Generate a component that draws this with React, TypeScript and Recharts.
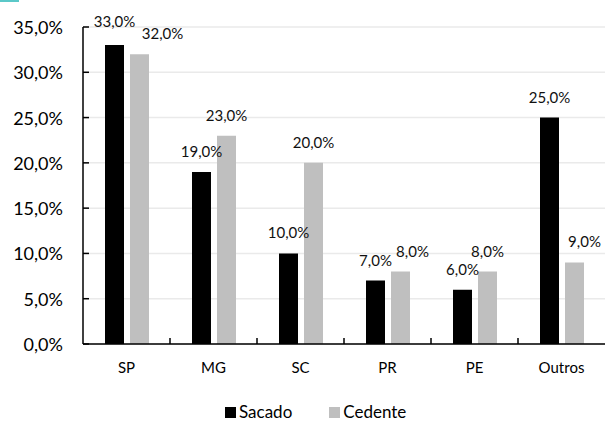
import React from 'react';
import { BarChart, Bar, XAxis, YAxis, CartesianGrid, Legend, LabelList } from 'recharts';

const categories = ['SP', 'MG', 'SC', 'PR', 'PE', 'Outros'];
const sacado = [33, 19, 10, 7, 6, 25];
const cedente = [32, 23, 20, 8, 8, 9];
const yTicks = [0, 5, 10, 15, 20, 25, 30, 35];

const data = categories.map((c, i) => ({ name: c, Sacado: sacado[i], Cedente: cedente[i] }));

const FONT = 'Lato, "Noto Sans", sans-serif';
const BLACK = '#000000';
const GRAY = '#BFBFBF';

// label nudges (Excel-style overlap avoidance), style only
const cedenteShift: Record<string, [number, number]> = { SP: [23, 0], PR: [12, 0], Outros: [10, 0] };
const sacadoShift: Record<string, [number, number]> = { SP: [0, -3] };

const fmt = (v: number) => v.toFixed(1).replace('.', ',') + '%';

const makeLabel = (shift: Record<string, [number, number]>) => (props: any) => {
  const { x, y, width, value, index } = props;
  const s = shift[categories[index]] || [0, 0];
  return (
    <text
      x={Number(x) + Number(width) / 2 + s[0]}
      y={Number(y) - 21 + s[1]}
      textAnchor="middle"
      dominantBaseline="central"
      fontFamily={FONT}
      fontSize={15}
      fill="#111"
    >
      {fmt(Number(value))}
    </text>
  );
};

const YTick = (props: any) => {
  const { x, y, payload } = props;
  return (
    <g>
      <line x1={x + 20} x2={x + 26} y1={y} y2={y} stroke={BLACK} strokeWidth={1.5} />
      <text x={x} y={y} textAnchor="end" dominantBaseline="central" fontFamily={FONT} fontSize={18} fill="#000">
        {fmt(payload.value)}
      </text>
    </g>
  );
};

const XTick = (props: any) => {
  const { x, y, payload, index } = props;
  const axisY = y - 23;
  return (
    <g>
      {index < categories.length - 1 && (
        <line x1={x + 43.5} x2={x + 43.5} y1={axisY} y2={axisY - 6} stroke={BLACK} strokeWidth={1.5} />
      )}
      <text x={x} y={y} textAnchor="middle" dominantBaseline="central" fontFamily={FONT} fontSize={15} fill="#000">
        {payload.value}
      </text>
    </g>
  );
};

const renderLegend = () => (
  <div style={{ display: 'flex', alignItems: 'center', fontFamily: FONT, fontSize: 17, lineHeight: '20px', color: '#000', height: 20 }}>
    <span style={{ display: 'inline-block', width: 11, height: 11, background: BLACK, marginRight: 3 }} />
    <span style={{ marginRight: 37 }}>Sacado</span>
    <span style={{ display: 'inline-block', width: 11, height: 11, background: GRAY, marginRight: 3 }} />
    <span>Cedente</span>
  </div>
);

export default function App() {
  return (
    <div style={{ position: 'absolute', left: 0, top: 0, width: 606, height: 424, background: '#fff' }}>
      <div style={{ position: 'absolute', left: 0, top: 0, width: 19, height: 2, background: '#5BC8C8' }} />
      <BarChart
        width={606}
        height={424}
        data={data}
        margin={{ top: 27, right: 1, left: 0, bottom: 30 }}
        barCategoryGap={22}
        barGap={6}
      >
        <CartesianGrid vertical={false} stroke="#EAEAEA" strokeWidth={1.5} />
        <XAxis
          dataKey="name"
          height={30}
          tickSize={0}
          tickMargin={23}
          tickLine={false}
          axisLine={{ stroke: BLACK, strokeWidth: 1.5 }}
          tick={<XTick />}
          interval={0}
        />
        <YAxis
          width={83}
          domain={[0, 35]}
          ticks={yTicks}
          tickSize={0}
          tickMargin={20}
          tickLine={false}
          axisLine={{ stroke: BLACK, strokeWidth: 1.5 }}
          tick={<YTick />}
          interval={0}
        />
        <Legend
          verticalAlign="bottom"
          content={renderLegend}
          wrapperStyle={{ left: 225, top: 402, width: 230, height: 20, bottom: 'auto' }}
        />
        <Bar dataKey="Sacado" fill={BLACK} barSize={19} isAnimationActive={false}>
          <LabelList dataKey="Sacado" content={makeLabel(sacadoShift)} />
        </Bar>
        <Bar dataKey="Cedente" fill={GRAY} barSize={19} isAnimationActive={false}>
          <LabelList dataKey="Cedente" content={makeLabel(cedenteShift)} />
        </Bar>
      </BarChart>
    </div>
  );
}
